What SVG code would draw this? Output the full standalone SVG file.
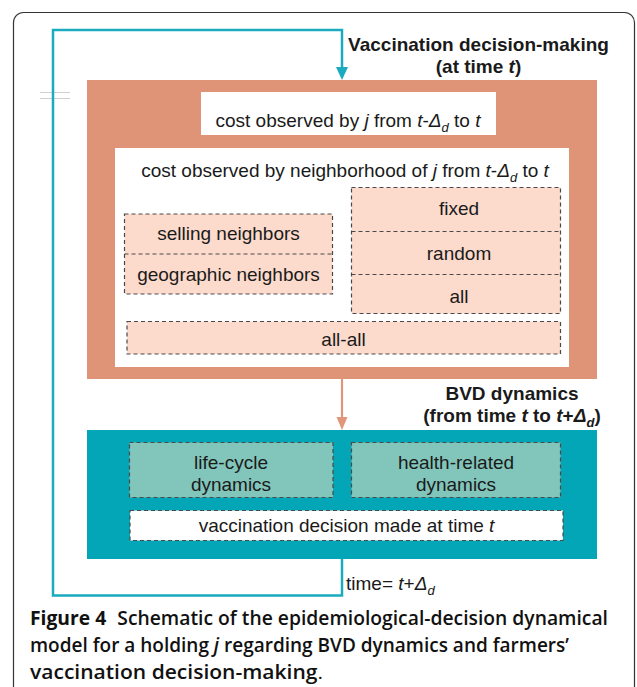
<svg xmlns="http://www.w3.org/2000/svg" width="637" height="687" viewBox="0 0 637 687">
<style>
text{font-family:"Liberation Sans",Arial,sans-serif;font-size:19px;fill:#1a1a1a}
.c{text-anchor:middle}
.b{font-weight:bold}
.i{font-style:italic}
.sub{font-style:italic;font-size:13px}
.dash{stroke:#4a4a4a;stroke-width:1.2;stroke-dasharray:4 3}
.pink{fill:#FCDACC}
.lteal{fill:#82C5BA}
.cap{font-family:"Open Sans","Noto Sans",sans-serif;font-weight:600;font-size:19px;fill:#111}
</style>
<rect x="0" y="0" width="637" height="687" fill="#fff"/>
<rect x="13.5" y="12.5" width="621" height="700" rx="10" fill="none" stroke="#333" stroke-width="1.2"/>
<g id="artifact">
<line x1="40" y1="92.5" x2="70" y2="92.5" stroke="#d0d0d0" stroke-width="1"/>
<line x1="40" y1="98.5" x2="70" y2="98.5" stroke="#d0d0d0" stroke-width="1"/>
</g>
<g id="connectors">
<path d="M342,559 V595.5 H53 V30 H342 V68" fill="none" stroke="#1AABBE" stroke-width="2.5"/>
<polygon points="336,67 348,67 342,80" fill="#1AABBE"/>
<line x1="342" y1="379" x2="342" y2="418" stroke="#E0967A" stroke-width="2.2"/>
<polygon points="336.5,417 347.5,417 342,430" fill="#E0967A"/>
</g>
<g id="decision">
<rect x="87" y="80" width="510" height="299" fill="#E09477"/>
<text class="c b" x="478.5" y="51">Vaccination decision-making</text>
<text class="c b" x="478.5" y="73">(at time <tspan class="i">t</tspan>)</text>
</g>
<g id="own-cost">
<rect x="201" y="92" width="295" height="43" fill="#fff"/>
<text class="c" x="348" y="127">cost observed by <tspan class="i">j</tspan> from <tspan class="i">t</tspan>-<tspan class="i">Δ</tspan><tspan class="sub" dy="5">d</tspan><tspan dy="-5"> to </tspan><tspan class="i">t</tspan></text>
</g>
<g id="neighborhood-cost">
<rect x="115" y="148" width="454" height="219" fill="#fff"/>
<text class="c" x="345" y="177">cost observed by neighborhood of <tspan class="i">j</tspan> from <tspan class="i">t</tspan>-<tspan class="i">Δ</tspan><tspan class="sub" dy="5">d</tspan><tspan dy="-5"> to </tspan><tspan class="i">t</tspan></text>
</g>
<g id="neighbor-types">
<rect class="pink dash" x="124.5" y="214" width="208" height="80"/>
<line class="dash" x1="124.5" y1="254" x2="332.5" y2="254"/>
<text class="c" x="228.5" y="240">selling neighbors</text>
<text class="c" x="228.5" y="281">geographic neighbors</text>
</g>
<g id="selection">
<rect class="pink dash" x="351.5" y="187.5" width="209" height="126"/>
<line class="dash" x1="351.5" y1="231.5" x2="560.5" y2="231.5"/>
<line class="dash" x1="351.5" y1="274.5" x2="560.5" y2="274.5"/>
<text class="c" x="459" y="215">fixed</text>
<text class="c" x="459" y="260">random</text>
<text class="c" x="459" y="303">all</text>
</g>
<g id="all-all">
<rect class="pink dash" x="127" y="321.5" width="433.5" height="32.5"/>
<text class="c" x="343.5" y="346">all-all</text>
</g>
<g id="bvd">
<rect x="87" y="430" width="510" height="129" fill="#02A6B6"/>
<text class="c b" x="512" y="400">BVD dynamics</text>
<text class="c b" x="512" y="422">(from time <tspan class="i">t</tspan> to <tspan class="i">t</tspan>+<tspan class="i">Δ</tspan><tspan class="sub" dy="5">d</tspan><tspan dy="-5">)</tspan></text>
</g>
<g id="life-cycle">
<rect class="lteal dash" x="129.5" y="442.5" width="203.5" height="55"/>
<text class="c" x="231" y="469">life-cycle</text>
<text class="c" x="231" y="491">dynamics</text>
</g>
<g id="health">
<rect class="lteal dash" x="351.5" y="442.5" width="209" height="55"/>
<text class="c" x="456" y="469">health-related</text>
<text class="c" x="456" y="491">dynamics</text>
</g>
<g id="vaccination-made">
<rect x="130" y="510.5" width="433" height="30" fill="#fff" class="dash"/>
<text class="c" x="346.5" y="532">vaccination decision made at time <tspan class="i">t</tspan></text>
</g>
<g id="time-label">
<text x="346" y="590">time= <tspan class="i">t</tspan>+<tspan class="i">Δ</tspan><tspan class="sub" dy="5">d</tspan></text>
</g>
<g id="caption">
<text class="cap" x="30" y="625" textLength="578" lengthAdjust="spacingAndGlyphs"><tspan font-weight="bold">Figure 4</tspan><tspan dx="6"> Schematic of the epidemiological-decision dynamical</tspan></text>
<text class="cap" x="30" y="652" textLength="539" lengthAdjust="spacingAndGlyphs">model for a holding <tspan font-style="italic">j</tspan> regarding BVD dynamics and farmers’</text>
<text class="cap" x="30" y="679" textLength="293" lengthAdjust="spacingAndGlyphs">vaccination decision-making<tspan font-weight="normal">.</tspan></text>
</g>
</svg>
